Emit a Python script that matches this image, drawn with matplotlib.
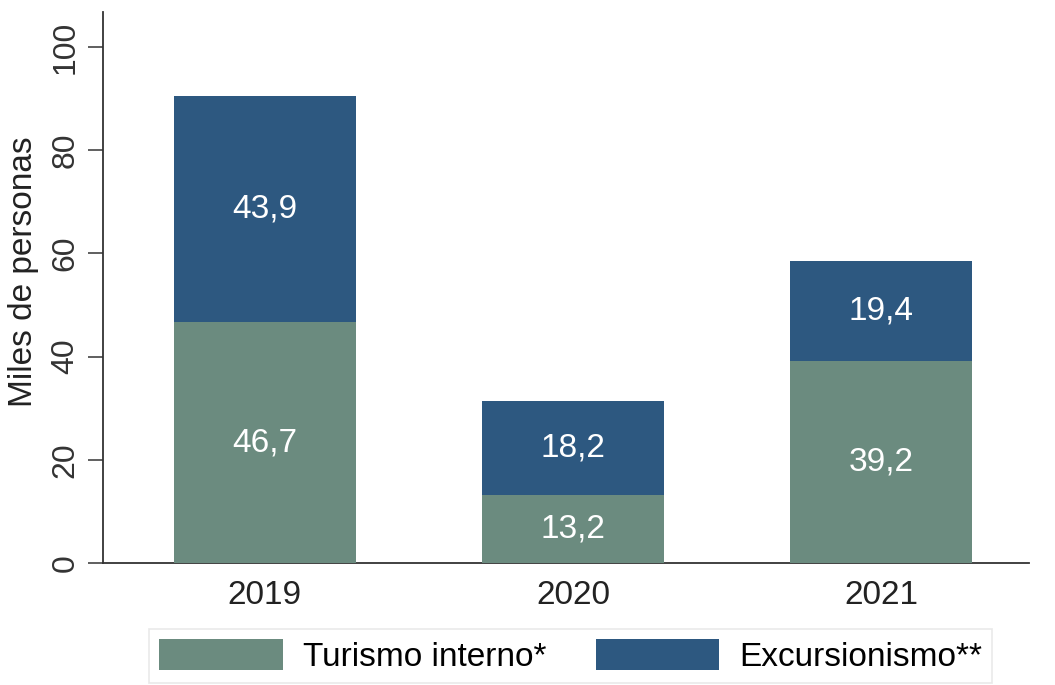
import matplotlib.pyplot as plt
import numpy as np

plt.rcParams['font.family'] = ['Liberation Sans', 'DejaVu Sans']

years = ['2019', '2020', '2021']
turismo = [46.7, 13.2, 39.2]
excursion = [43.9, 18.2, 19.4]
green = '#6b8b7f'
blue = '#2d5880'

fig = plt.figure(figsize=(10.55, 6.85), dpi=100)
ax = fig.add_axes([0.0976, 0.178, 0.878, 0.8045])

x = np.arange(len(years))
ax.bar(x, turismo, width=0.59, color=green, label='Turismo interno*', zorder=3)
ax.bar(x, excursion, width=0.59, bottom=turismo, color=blue,
       label='Excursionismo**', zorder=3)

for i in range(len(years)):
    ax.text(x[i], turismo[i] / 2, f'{turismo[i]:.1f}'.replace('.', ','),
            ha='center', va='center', color='white', fontsize=24, zorder=4)
    ax.text(x[i], turismo[i] + excursion[i] / 2, f'{excursion[i]:.1f}'.replace('.', ','),
            ha='center', va='center', color='white', fontsize=24, zorder=4)

ax.set_xlim(-0.525, 2.48)
ax.set_ylim(0, 106.8)
ax.set_xticks(x)
ax.set_xticklabels(years, fontsize=24, color='#222222')
ax.set_yticks([0, 20, 40, 60, 80, 100])
ax.set_yticklabels(['0', '20', '40', '60', '80', '100'], fontsize=23,
                   rotation=90, va='center', color='#333333')
ax.set_ylabel('Miles de personas', fontsize=24, color='#222222')
ax.yaxis.set_label_coords(-0.069, 0.528)
ax.tick_params(axis='y', length=11, width=1.2, color='#444444', direction='out', pad=5)
ax.tick_params(axis='x', length=0, pad=12)

for s in ['top', 'right']:
    ax.spines[s].set_visible(False)
for s in ['left', 'bottom']:
    ax.spines[s].set_color('#333333')
    ax.spines[s].set_linewidth(1.3)

leg = fig.legend(loc='lower center', bbox_to_anchor=(0.541, 0.003), ncol=2,
                 fontsize=24, frameon=True, fancybox=False, edgecolor='#e4e4e4',
                 handlelength=3.7, handleheight=1.05, columnspacing=1.5,
                 borderpad=0.3, handletextpad=0.6, borderaxespad=0)
leg.get_frame().set_linewidth(1.2)

fig.savefig('out.png', dpi=100)
